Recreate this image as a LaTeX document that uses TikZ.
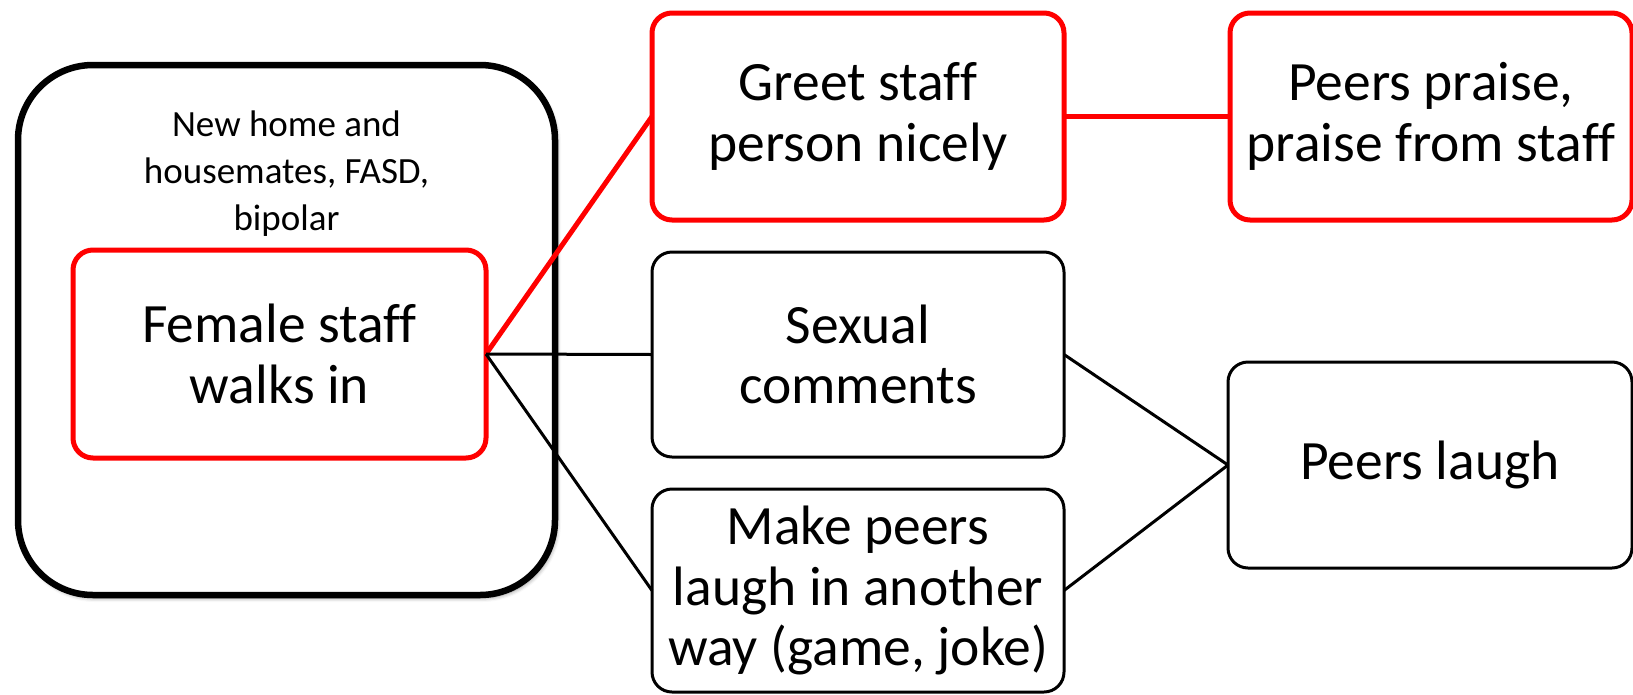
\documentclass[tikz,border=0pt]{standalone}
\usepackage{fontspec}
\setmainfont{Carlito}[Ligatures=NoCommon]
\usetikzlibrary{shadows.blur}

\tikzset{
  box/.style={rectangle, rounded corners=20pt, draw=black, line width=3pt,
    fill=white, inner sep=0pt, outer sep=0pt, align=center,
    font=\fontsize{55.5}{60.5}\selectfont},
  redbox/.style={box, draw=red, line width=5pt},
  context/.style={rectangle, rounded corners=75pt, draw=black, line width=6.5pt,
    fill=white, inner sep=0pt, outer sep=0pt,
    blur shadow={shadow xshift=2pt, shadow yshift=-3pt,
      shadow blur radius=4pt, shadow opacity=45}},
  note/.style={align=center, inner sep=0pt, font=\fontsize{37}{47}\selectfont},
  link/.style={draw=black, line width=3pt},
  redlink/.style={draw=red, line width=5pt},
}

\begin{document}
\begin{tikzpicture}[x=1pt, y=-1pt]
  \useasboundingbox (0,0) rectangle (1633,694);

  % setting: surrounding context box with its description
  \node[context, minimum width=537pt, minimum height=530pt] (ctx) at (286.5,330) {};
  \node[note] (ctxtext) at (286.5,174) {New home and\\housemates, FASD,\\bipolar};

  % antecedent
  \node[redbox, minimum width=413pt, minimum height=208pt] (walk) at (279.5,354)
    {Female staff\\walks in};

  % behaviours
  \node[redbox, minimum width=412pt, minimum height=207pt] (greet) at (858,116.5)
    {Greet staff\\person nicely};
  \node[box, minimum width=412pt, minimum height=205pt] (sexual) at (858,354.5)
    {Sexual\\comments};
  \node[box, minimum width=412pt, minimum height=203pt] (other) at (858,590.5)
    {Make peers\\laugh in another\\way (game, joke)};

  % consequences
  \node[redbox, minimum width=402pt, minimum height=207pt] (praise) at (1431,116.5)
    {Peers praise,\\praise from staff};
  \node[box, minimum width=404pt, minimum height=206pt] (laugh) at (1430,465)
    {Peers laugh};

  % connectors
  \draw[redlink] (walk.east) -- (greet.west);
  \draw[link] (walk.east) -- (sexual.west);
  \draw[link] (walk.east) -- (other.west);
  \draw[redlink] (greet.east) -- (praise.west);
  \draw[link] (sexual.east) -- (laugh.west);
  \draw[link] (other.east) -- (laugh.west);
\end{tikzpicture}
\end{document}
